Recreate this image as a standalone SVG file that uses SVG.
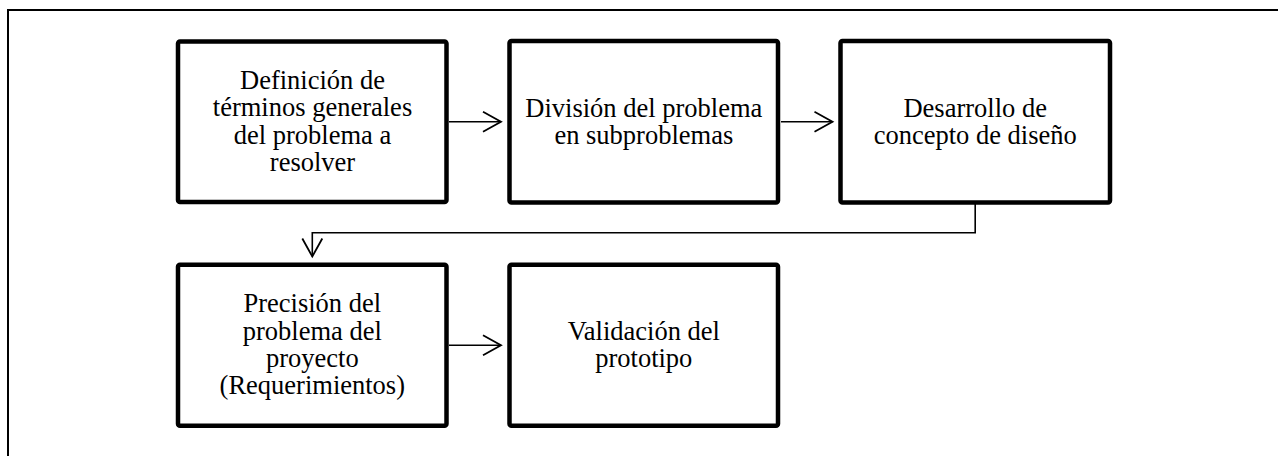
<svg xmlns="http://www.w3.org/2000/svg" width="1278" height="456" viewBox="0 0 1278 456">
  <style>
    .box { fill: #ffffff; stroke: #000000; stroke-width: 4.5; }
    .lbl { font-family: "Liberation Serif", "Times New Roman", serif; font-size: 26.5px; fill: #000000; text-anchor: middle; }
    .conn { fill: none; stroke: #000000; stroke-width: 1.6; }
    .frame { fill: none; stroke: #000000; stroke-width: 2; }
  </style>
  <defs>
    <marker id="arr" markerUnits="userSpaceOnUse" markerWidth="24" markerHeight="26" viewBox="-21 -13 24 26" refX="0" refY="0" orient="auto" overflow="visible">
      <path d="M-18,-10 L0,0 L-18,10" fill="none" stroke="#000000" stroke-width="1.8"/>
    </marker>
  </defs>
  <rect width="1278" height="456" fill="#ffffff"/>
  <path class="frame" d="M8,456 V10 H1278"/>

  <g id="connectors">
    <path class="conn" d="M449,121.7 H501" marker-end="url(#arr)"/>
    <path class="conn" d="M781,121.7 H832.5" marker-end="url(#arr)"/>
    <path class="conn" d="M975.2,204 V232.8 H312.3 V256.5" marker-end="url(#arr)"/>
    <path class="conn" d="M449,345.3 H501" marker-end="url(#arr)"/>
  </g>

  <g id="node1">
    <rect class="box" x="178" y="41.5" width="268.5" height="160.5" rx="2"/>
    <text class="lbl" x="312.5" y="89">Definición de</text>
    <text class="lbl" x="312.5" y="116.3">términos generales</text>
    <text class="lbl" x="312.5" y="143.6">del problema a</text>
    <text class="lbl" x="312.5" y="170.9">resolver</text>
  </g>

  <g id="node2">
    <rect class="box" x="509.5" y="41" width="268.5" height="161.5" rx="2"/>
    <text class="lbl" x="643.8" y="116.5">División del problema</text>
    <text class="lbl" x="643.8" y="143.5">en subproblemas</text>
  </g>

  <g id="node3">
    <rect class="box" x="840.5" y="41" width="269.5" height="161.5" rx="2"/>
    <text class="lbl" x="975.2" y="116.5">Desarrollo de</text>
    <text class="lbl" x="975.2" y="143.5">concepto de diseño</text>
  </g>

  <g id="node4">
    <rect class="box" x="178" y="264.8" width="268.5" height="161" rx="2"/>
    <text class="lbl" x="312.3" y="312.3">Precisión del</text>
    <text class="lbl" x="312.3" y="339.6">problema del</text>
    <text class="lbl" x="312.3" y="366.9">proyecto</text>
    <text class="lbl" x="312.3" y="394.2">(Requerimientos)</text>
  </g>

  <g id="node5">
    <rect class="box" x="509.5" y="264.8" width="268.5" height="161" rx="2"/>
    <text class="lbl" x="643.8" y="340">Validación del</text>
    <text class="lbl" x="643.8" y="367.3">prototipo</text>
  </g>
</svg>
